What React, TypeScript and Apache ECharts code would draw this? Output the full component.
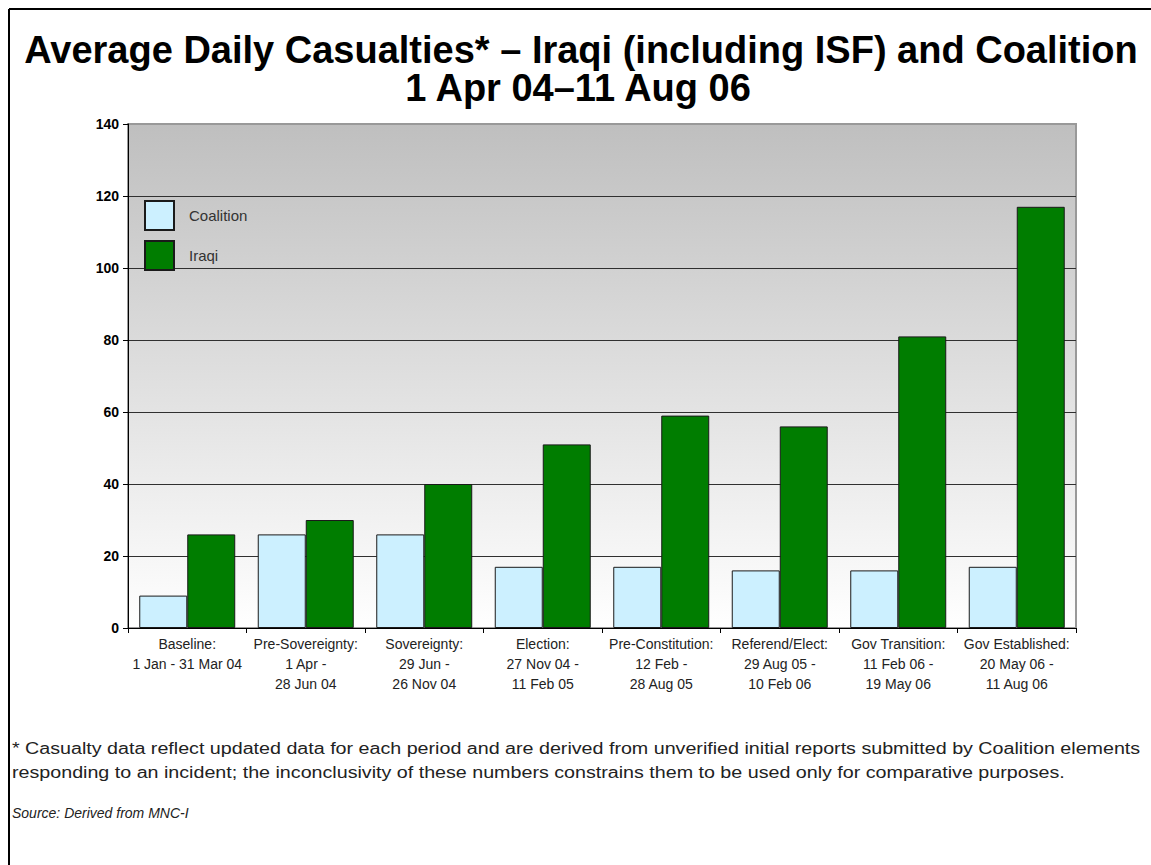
import React, { useEffect, useRef } from "react";
import * as echarts from "echarts";

// Reporting periods (x axis), two-to-three line labels
const periods = [
  "Baseline:\n1 Jan - 31 Mar 04",
  "Pre-Sovereignty:\n1 Apr -\n28 Jun 04",
  "Sovereignty:\n29 Jun -\n26 Nov 04",
  "Election:\n27 Nov 04 -\n11 Feb 05",
  "Pre-Constitution:\n12 Feb -\n28 Aug 05",
  "Referend/Elect:\n29 Aug 05 -\n10 Feb 06",
  "Gov Transition:\n11 Feb 06 -\n19 May 06",
  "Gov Established:\n20 May 06 -\n11 Aug 06",
];

// Average daily casualties per period
const coalition = [9, 26, 26, 17, 17, 16, 16, 17];
const iraqi = [26, 30, 40, 51, 59, 56, 81, 117];

const yTicks = { min: 0, max: 140, interval: 20 };

const titleLine1 = "Average Daily Casualties* \u2013 Iraqi (including ISF) and Coalition";
const titleLine2 = "1 Apr 04\u201311 Aug 06";
const footnote1 =
  "* Casualty data reflect updated data for each period and are derived from unverified initial reports submitted by Coalition elements";
const footnote2 =
  "responding to an incident; the inconclusivity of these numbers constrains them to be used only for comparative purposes.";
const sourceNote = "Source: Derived from MNC-I";

const FONT = "'Liberation Sans', Arial, sans-serif";

export default function App() {
  const ref = useRef<HTMLDivElement>(null);

  useEffect(() => {
    document.body.style.margin = "0";
    const chart = echarts.init(ref.current!, undefined, { renderer: "svg" });
    chart.setOption({
      animation: false,
      backgroundColor: "#ffffff",
      textStyle: { fontFamily: FONT },
      grid: {
        left: 128,
        top: 124,
        width: 948,
        height: 504,
        show: true,
        borderColor: "#999999",
        borderWidth: 2,
        backgroundColor: new echarts.graphic.LinearGradient(0, 0, 0, 1, [
          { offset: 0, color: "#bfbfbf" },
          { offset: 1, color: "#ffffff" },
        ]),
      },
      legend: {
        orient: "vertical",
        left: 144,
        top: 200,
        itemWidth: 29,
        itemHeight: 29,
        itemGap: 9,
        icon: "rect",
        padding: 0,
        textStyle: {
          fontFamily: FONT,
          fontSize: 15,
          color: "#333333",
          padding: [0, 0, 0, 10],
        },
        data: ["Coalition", "Iraqi"],
      },
      xAxis: {
        type: "category",
        data: periods,
        boundaryGap: true,
        axisLine: { show: true, lineStyle: { color: "#000000", width: 1 } },
        axisTick: { show: true, length: 5, lineStyle: { color: "#000000" } },
        axisLabel: {
          fontFamily: FONT,
          fontSize: 14,
          color: "#222222",
          lineHeight: 20,
          margin: 6,
          interval: 0,
        },
      },
      yAxis: {
        type: "value",
        min: yTicks.min,
        max: yTicks.max,
        interval: yTicks.interval,
        axisLine: { show: true, lineStyle: { color: "#000000", width: 1 } },
        axisTick: { show: true, length: 5, lineStyle: { color: "#000000" } },
        axisLabel: {
          fontFamily: FONT,
          fontSize: 14,
          fontWeight: "bold",
          color: "#000000",
          margin: 9,
        },
        splitLine: {
          show: true,
          showMaxLine: false,
          lineStyle: { color: "#303030", width: 1 },
        },
      },
      series: [
        {
          name: "Coalition",
          type: "bar",
          data: coalition,
          barGap: "0%",
          barCategoryGap: "19%",
          itemStyle: { color: "#ccf0ff", borderColor: "#1a1a1a", borderWidth: 1 },
        },
        {
          name: "Iraqi",
          type: "bar",
          data: iraqi,
          barGap: "0%",
          barCategoryGap: "19%",
          itemStyle: { color: "#007d00", borderColor: "#1a1a1a", borderWidth: 1 },
        },
      ],
      graphic: [
        {
          type: "line",
          shape: { x1: 9, y1: 9, x2: 1151, y2: 9 },
          style: { stroke: "#000000", lineWidth: 2 },
        },
        {
          type: "line",
          shape: { x1: 9, y1: 9, x2: 9, y2: 865 },
          style: { stroke: "#000000", lineWidth: 2 },
        },
        {
          type: "text",
          x: 581,
          y: 50,
          style: {
            text: titleLine1,
            font: `bold 38px ${FONT}`,
            fill: "#000000",
            textAlign: "center",
            textVerticalAlign: "middle",
          },
        },
        {
          type: "text",
          x: 578,
          y: 88,
          style: {
            text: titleLine2,
            font: `bold 38px ${FONT}`,
            fill: "#000000",
            textAlign: "center",
            textVerticalAlign: "middle",
          },
        },
        {
          type: "text",
          x: 12,
          y: 749,
          scaleX: 1.23,
          style: {
            text: footnote1,
            font: `16px ${FONT}`,
            fill: "#222222",
            textVerticalAlign: "middle",
          },
        },
        {
          type: "text",
          x: 12,
          y: 773,
          scaleX: 1.23,
          style: {
            text: footnote2,
            font: `16px ${FONT}`,
            fill: "#222222",
            textVerticalAlign: "middle",
          },
        },
        {
          type: "text",
          x: 12,
          y: 813,
          style: {
            text: sourceNote,
            font: `italic 14px ${FONT}`,
            fill: "#222222",
            textVerticalAlign: "middle",
          },
        },
      ],
    });
    return () => chart.dispose();
  }, []);

  return <div ref={ref} style={{ width: 1151, height: 865 }} />;
}
